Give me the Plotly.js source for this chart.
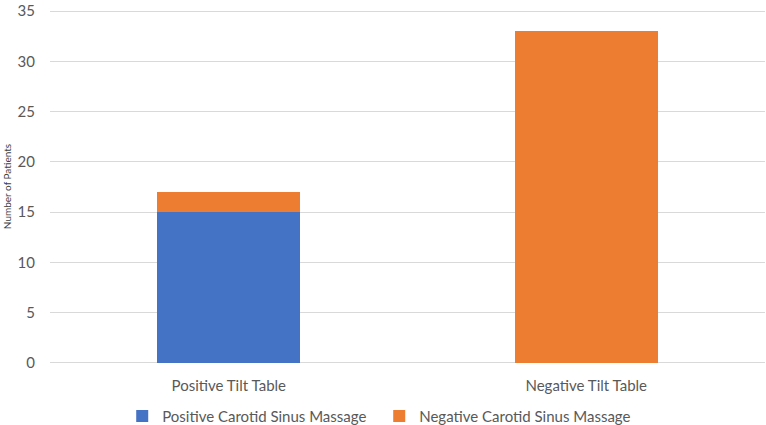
<!DOCTYPE html>
<html>
<head>
<meta charset="utf-8">
<script src="https://cdn.plot.ly/plotly-3.0.1.min.js"></script>
<style>html,body{margin:0;padding:0;background:#fff;}#chart{width:766px;height:425px;}</style>
</head>
<body>
<div id="chart"></div>
<script>
const categories = ["Positive Tilt Table", "Negative Tilt Table"];
const positiveCSM = [15, 0];
const negativeCSM = [2, 33];
const seriesNames = ["Positive Carotid Sinus Massage", "Negative Carotid Sinus Massage"];
const yTicks = [0, 5, 10, 15, 20, 25, 30, 35];

const FONT = "Lato, 'Open Sans', sans-serif";
const data = [
  {type: "bar", x: categories, y: positiveCSM, name: seriesNames[0],
   marker: {color: "#4472C4"}, hoverinfo: "none"},
  {type: "bar", x: categories, y: negativeCSM, name: seriesNames[1],
   marker: {color: "#ED7D31"}, hoverinfo: "none"}
];
const layout = {
  width: 766, height: 425,
  barmode: "stack", bargap: 0.6,
  margin: {l: 50, r: 1, t: 9, b: 61, autoexpand: false},
  paper_bgcolor: "#fff", plot_bgcolor: "#fff",
  font: {family: FONT, size: 15, color: "#595959"},
  showlegend: true,
  legend: {orientation: "h", xref: "paper", x: 0.101, xanchor: "left", y: -0.147, yanchor: "middle",
           entrywidth: 212, entrywidthmode: "pixels",
           font: {size: 15, color: "#595959"}, traceorder: "normal"},
  xaxis: {showgrid: false, zeroline: false, showline: false, ticks: "",
          tickfont: {size: 15, color: "#595959"}, ticklabelstandoff: 11},
  yaxis: {range: [-0.12, 35.2], tickvals: yTicks, showgrid: true, gridcolor: "#d9d9d9", gridwidth: 1,
          zeroline: false, showline: false, ticks: "", ticklabeloverflow: "allow",
          tickfont: {size: 15, color: "#595959"}, ticklabelstandoff: 14,
          title: {text: "Number of Patients", font: {size: 10, color: "#404040"}, standoff: 4}}
};
Plotly.newPlot("chart", data, layout, {displayModeBar: false, staticPlot: true});
</script>
</body>
</html>
